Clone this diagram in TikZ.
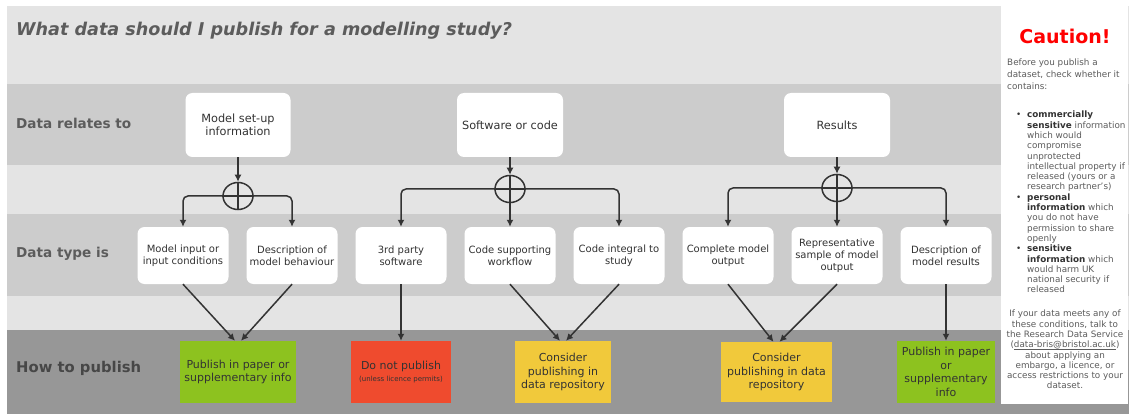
\documentclass[tikz,border=0pt]{standalone}
\usepackage{fontspec}
\setmainfont{DejaVu Sans}
\usetikzlibrary{arrows.meta,shapes.geometric}
\definecolor{bandlight}{HTML}{E4E4E4}
\definecolor{banddark}{HTML}{CCCCCC}
\definecolor{bandpub}{HTML}{979797}
\definecolor{ink}{HTML}{333333}
\definecolor{headgrey}{HTML}{5C5C5C}
\definecolor{pubgreen}{HTML}{8DC21F}
\definecolor{pubred}{HTML}{EF4B2E}
\definecolor{pubyellow}{HTML}{F1C93B}
\newcommand{\riskterm}[1]{\textcolor{ink}{\textbf{#1}}}
\newcommand{\mailline}[1]{\setbox0\hbox{#1}\rlap{\rule[-1.6pt]{\wd0}{0.5pt}}\box0}

\begin{document}
\begin{tikzpicture}[x=1pt,y=-1pt,
  topbox/.style={rectangle,rounded corners=7pt,fill=white,text=ink,align=center,
    minimum width=106pt,minimum height=64pt,inner sep=2pt,font=\fontsize{11.3}{13.5}\selectfont},
  kindbox/.style={topbox,minimum width=91pt,minimum height=57pt,font=\fontsize{10}{12}\selectfont},
  pubbox/.style={rectangle,text=ink,align=center,minimum height=62pt,inner sep=2pt,
    font=\fontsize{11}{13.5}\selectfont},
  hub/.style={ellipse,draw=ink,line width=1.5pt,minimum width=30pt,minimum height=27pt,inner sep=0pt},
  arr/.style={draw=ink,line width=1.5pt,rounded corners=5pt,-{Latex[length=7pt,width=7pt]}},
  rowlbl/.style={anchor=west,inner sep=0pt,text=headgrey,font=\fontsize{13.6}{16}\bfseries\selectfont},
  panel/.style={text=headgrey,inner sep=0pt,font=\fontsize{8.8}{10.3}\selectfont}]
 \useasboundingbox (0,0) rectangle (1129,414);

 % bands
 \fill[white] (0,0) rectangle (1129,414);
 \fill[bandlight] (7,6) rectangle (1129,84);
 \fill[banddark] (7,84) rectangle (1129,165);
 \fill[bandlight] (7,165) rectangle (1129,214);
 \fill[banddark] (7,214) rectangle (1129,296);
 \fill[bandlight] (7,296) rectangle (1129,330);
 \fill[bandpub] (7,330) rectangle (1129,414);
 \fill[white] (1001,5) rectangle (1128,404);

 \node (title) at (16,31) [anchor=west,inner sep=0pt,text=headgrey,font=\fontsize{17.6}{20}\bfseries\itshape\selectfont]
   {What data should I publish for a modelling study?};
 \node (relates) at (16,123) [rowlbl] {Data relates to};
 \node (type) at (16,254) [rowlbl] {Data type is};
 \node (how) at (16,368) [rowlbl,text=ink!90,font=\fontsize{14.8}{17}\bfseries\selectfont] {How to publish};

 \node (ms) at (238,125) [topbox,minimum width=105pt] {Model set-up\\information};
 \node (sw) at (510,125) [topbox] {Software or code};
 \node (rs) at (837,125) [topbox] {Results};

 \node (c1) at (238,196) [hub] {};
 \node (c2) at (510,189) [hub] {};
 \node (c3) at (837,188) [hub] {};

 \node (mi) at (183,255.5) [kindbox] {Model input or\\input conditions};
 \node (db) at (292,255.5) [kindbox] {Description of\\model behaviour};
 \node (tp) at (401,255.5) [kindbox] {3rd party\\software};
 \node (cs) at (510,255.5) [kindbox] {Code supporting\\workflow};
 \node (ci) at (619,255.5) [kindbox] {Code integral to\\study};
 \node (cm) at (728,255.5) [kindbox] {Complete model\\output};
 \node (rp) at (837,255.5) [kindbox] {Representative\\sample of model\\output};
 \node (dr) at (946,255.5) [kindbox] {Description of\\model results};

 \node (g1) at (238,372) [pubbox,fill=pubgreen,minimum width=116pt] {Publish in paper or\\supplementary info};
 \node (rd) at (401,372) [pubbox,fill=pubred,minimum width=100pt]
   {Do not publish\\[-2pt]{\fontsize{7}{8}\selectfont(unless licence permits)}};
 \node (y1) at (563,372) [pubbox,fill=pubyellow,minimum width=96pt] {Consider\\publishing in\\data repository};
 \node (y2) at (776.5,372) [pubbox,fill=pubyellow,minimum width=111pt,minimum height=60pt]
   {Consider\\publishing in data\\repository};
 \node (g2) at (946,372) [pubbox,fill=pubgreen,minimum width=98pt] {Publish in paper\\or\\supplementary\\info};

 \draw[arr] (ms) -- (c1);
 \draw[arr] (sw) -- (c2);
 \draw[arr] (rs) -- (c3);
 \draw[draw=ink,line width=1.5pt] (c1.north) -- (c1.south) (c1.west) -- (c1.east);
 \draw[draw=ink,line width=1.5pt] (c2.north) -- (c2.south) (c2.west) -- (c2.east);
 \draw[draw=ink,line width=1.5pt] (c3.north) -- (c3.south) (c3.west) -- (c3.east);

 \draw[arr] (c1.west) -| (mi);
 \draw[arr] (c1.east) -| (db);
 \draw[arr] (c2.west) -| (tp);
 \draw[arr] (c2) -- (cs);
 \draw[arr] (c2.east) -| (ci);
 \draw[arr] (c3.west) -| (cm);
 \draw[arr] (c3) -- (rp);
 \draw[arr] (c3.east) -| (dr);

 \draw[arr] (mi.south) -- ([xshift=-3pt]g1.north);
 \draw[arr] (db.south) -- ([xshift=3pt]g1.north);
 \draw[arr] (tp) -- (rd);
 \draw[arr] (cs.south) -- ([xshift=-3pt]y1.north);
 \draw[arr] (ci.south) -- ([xshift=3pt]y1.north);
 \draw[arr] (cm.south) -- ([xshift=-3pt]y2.north);
 \draw[arr] (rp.south) -- ([xshift=3pt]y2.north);
 \draw[arr] (dr) -- (g2);

 % caution panel
 \node (caution) at (1065,36) [text=red,font=\fontsize{19}{22}\bfseries\selectfont] {Caution!};
 \node (intro) at (1007,59) [panel,anchor=north west,align=left,font=\fontsize{8.8}{12}\selectfont]
   {Before you publish a\\dataset, check whether it\\contains:};
 \node (risks) at (1027,111) [panel,anchor=north west,align=left]
   {\llap{\textcolor{ink}{\textbullet}\hspace{6pt}}\riskterm{commercially}\\
    \riskterm{sensitive} information\\
    which would\\
    compromise\\
    unprotected\\
    intellectual property if\\
    released (yours or a\\
    research partner's)\\
    \llap{\textcolor{ink}{\textbullet}\hspace{6pt}}\riskterm{personal}\\
    \riskterm{information} which\\
    you do not have\\
    permission to share\\
    openly\\
    \llap{\textcolor{ink}{\textbullet}\hspace{6pt}}\riskterm{sensitive}\\
    \riskterm{information} which\\
    would harm UK\\
    national security if\\
    released};
 \node (contact) at (1065,310) [panel,anchor=north,align=center]
   {If your data meets any of\\
    these conditions, talk to\\
    the Research Data Service\\
    (\mailline{data-bris@bristol.ac.uk})\\
    about applying an\\
    embargo, a licence, or\\
    access restrictions to your\\
    dataset.};
\end{tikzpicture}
\end{document}
